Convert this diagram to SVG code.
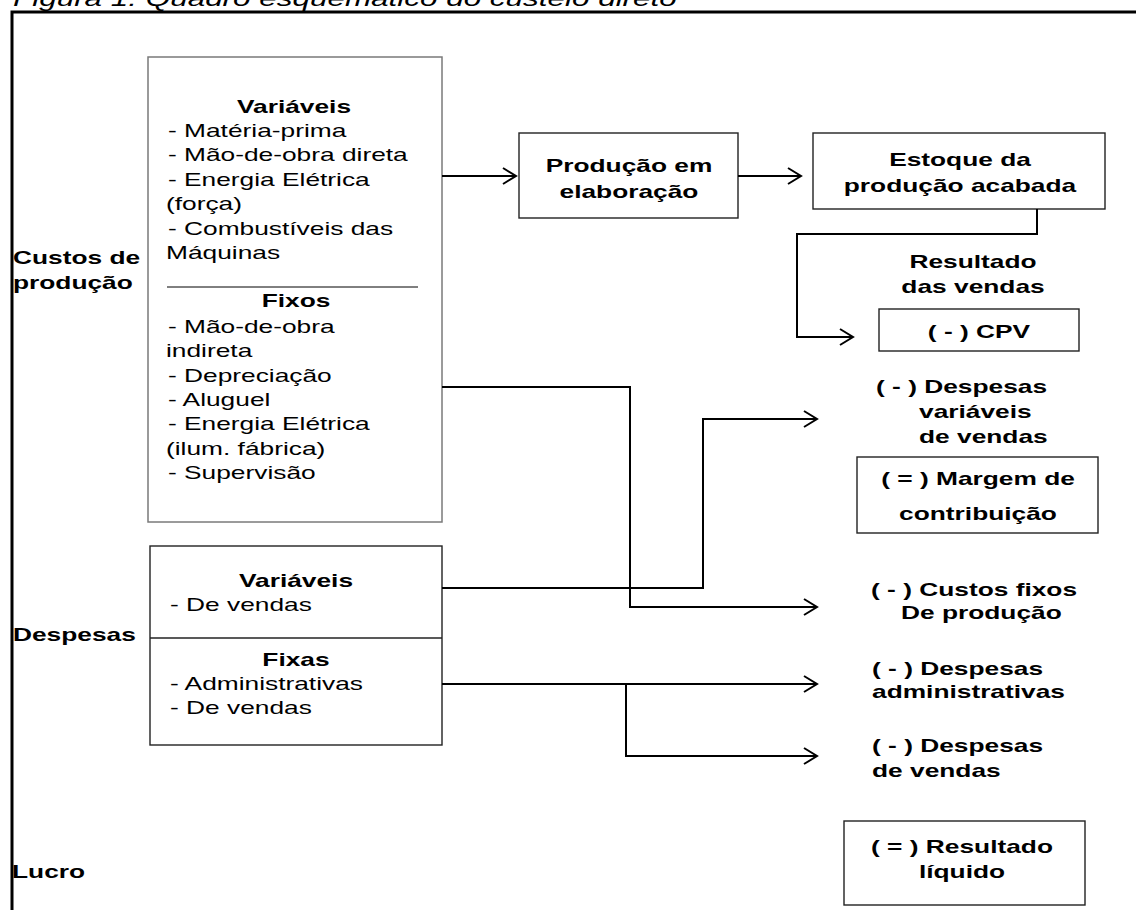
<svg xmlns="http://www.w3.org/2000/svg" width="1136" height="910" viewBox="0 0 1136 910">
<style>
.t{font-family:"Liberation Sans",Arial,sans-serif;font-size:19px;fill:#000}
.b{font-weight:bold}
.m{text-anchor:middle}
.box{fill:#fff;stroke:#222;stroke-width:1.4}
.gbox{fill:#fff;stroke:#7a7a7a;stroke-width:1.5}
.c{fill:none;stroke:#000;stroke-width:2}
</style>
<defs>
<marker id="ah" markerUnits="userSpaceOnUse" markerWidth="16" markerHeight="18" refX="14" refY="9" orient="auto">
<path d="M1,1 L14,9 L1,17" fill="none" stroke="#000" stroke-width="2"/>
</marker>
</defs>
<rect width="1136" height="910" fill="#fff"/>
<text class="t" style="font-size:22.7px;font-style:italic" transform="translate(13 6) scale(1.385 1)">Figura 1: Quadro esquemático do custeio direto</text>
<path d="M12,910 V12 H1136" fill="none" stroke="#000" stroke-width="3"/>

<g id="label-custos">
<text class="t b" transform="translate(13 264) scale(1.385 1)">Custos de</text>
<text class="t b" transform="translate(13 289) scale(1.385 1)">produção</text>
</g>
<g id="label-despesas">
<text class="t b" transform="translate(13 641) scale(1.385 1)">Despesas</text>
</g>
<g id="label-lucro">
<text class="t b" transform="translate(12 878) scale(1.385 1)">Lucro</text>
</g>

<g id="custos-producao">
<rect class="gbox" x="148" y="57" width="294" height="465"/>
<text class="t b m" transform="translate(294 113) scale(1.385 1)">Variáveis</text>
<text class="t" transform="translate(168 137) scale(1.385 1)">- Matéria-prima</text>
<text class="t" transform="translate(168 161) scale(1.385 1)">- Mão-de-obra direta</text>
<text class="t" transform="translate(168 186) scale(1.385 1)">- Energia Elétrica</text>
<text class="t" transform="translate(166 210) scale(1.385 1)">(força)</text>
<text class="t" transform="translate(168 235) scale(1.385 1)">- Combustíveis das</text>
<text class="t" transform="translate(166 259) scale(1.385 1)">Máquinas</text>
<line x1="167" y1="287" x2="418" y2="287" stroke="#000" stroke-width="1"/>
<text class="t b m" transform="translate(296 307) scale(1.385 1)">Fixos</text>
<text class="t" transform="translate(168 333) scale(1.385 1)">- Mão-de-obra</text>
<text class="t" transform="translate(166 357) scale(1.385 1)">indireta</text>
<text class="t" transform="translate(168 382) scale(1.385 1)">- Depreciação</text>
<text class="t" transform="translate(168 406) scale(1.385 1)">- Aluguel</text>
<text class="t" transform="translate(168 430) scale(1.385 1)">- Energia Elétrica</text>
<text class="t" transform="translate(166 455) scale(1.385 1)">(ilum. fábrica)</text>
<text class="t" transform="translate(168 479) scale(1.385 1)">- Supervisão</text>
</g>

<g id="despesas">
<rect class="box" x="150" y="546" width="292" height="199"/>
<line x1="150" y1="638" x2="442" y2="638" stroke="#222" stroke-width="1.4"/>
<text class="t b m" transform="translate(296 587) scale(1.385 1)">Variáveis</text>
<text class="t" transform="translate(170 611) scale(1.385 1)">- De vendas</text>
<text class="t b m" transform="translate(296 666) scale(1.385 1)">Fixas</text>
<text class="t" transform="translate(170 690) scale(1.385 1)">- Administrativas</text>
<text class="t" transform="translate(170 714) scale(1.385 1)">- De vendas</text>
</g>

<g id="producao-elaboracao">
<rect class="box" x="519" y="133" width="219" height="85"/>
<text class="t b m" transform="translate(629 172) scale(1.385 1)">Produção em</text>
<text class="t b m" transform="translate(629 198) scale(1.385 1)">elaboração</text>
</g>

<g id="estoque">
<rect class="box" x="813" y="133" width="292" height="76"/>
<text class="t b m" transform="translate(960 166) scale(1.385 1)">Estoque da</text>
<text class="t b m" transform="translate(960 192) scale(1.385 1)">produção acabada</text>
</g>

<g id="resultado-vendas">
<text class="t b m" transform="translate(973 268) scale(1.385 1)">Resultado</text>
<text class="t b m" transform="translate(973 293) scale(1.385 1)">das vendas</text>
</g>

<g id="cpv">
<rect class="box" x="879" y="309" width="200" height="42"/>
<text class="t b m" transform="translate(979 338) scale(1.385 1)">( - ) CPV</text>
</g>

<g id="despesas-variaveis-vendas">
<text class="t b" transform="translate(876 393) scale(1.385 1)">( - ) Despesas</text>
<text class="t b" transform="translate(919 418) scale(1.385 1)">variáveis</text>
<text class="t b" transform="translate(919 443) scale(1.385 1)">de vendas</text>
</g>

<g id="margem">
<rect class="box" x="857" y="457" width="241" height="76"/>
<text class="t b m" transform="translate(978 485) scale(1.385 1)">( = ) Margem de</text>
<text class="t b m" transform="translate(978 520) scale(1.385 1)">contribuição</text>
</g>

<g id="custos-fixos">
<text class="t b" transform="translate(871 596) scale(1.385 1)">( - ) Custos fixos</text>
<text class="t b" transform="translate(901 619) scale(1.385 1)">De produção</text>
</g>

<g id="despesas-administrativas">
<text class="t b" transform="translate(872 675) scale(1.385 1)">( - ) Despesas</text>
<text class="t b" transform="translate(872 698) scale(1.385 1)">administrativas</text>
</g>

<g id="despesas-vendas">
<text class="t b" transform="translate(872 752) scale(1.385 1)">( - ) Despesas</text>
<text class="t b" transform="translate(872 777) scale(1.385 1)">de vendas</text>
</g>

<g id="resultado-liquido">
<rect class="box" x="844" y="821" width="241" height="84"/>
<text class="t b m" transform="translate(962 853) scale(1.385 1)">( = ) Resultado</text>
<text class="t b m" transform="translate(962 878) scale(1.385 1)">líquido</text>
</g>

<g id="connectors">
<path class="c" d="M442,176 H516" marker-end="url(#ah)"/>
<path class="c" d="M738,176 H801" marker-end="url(#ah)"/>
<path class="c" d="M1037,209 V234 H797 V337 H853" marker-end="url(#ah)"/>
<path class="c" d="M442,387 H630 V607 H817" marker-end="url(#ah)"/>
<path class="c" d="M442,588 H703 V419 H817" marker-end="url(#ah)"/>
<path class="c" d="M442,684 H817" marker-end="url(#ah)"/>
<path class="c" d="M626,684 V756 H817" marker-end="url(#ah)"/>
</g>
</svg>
